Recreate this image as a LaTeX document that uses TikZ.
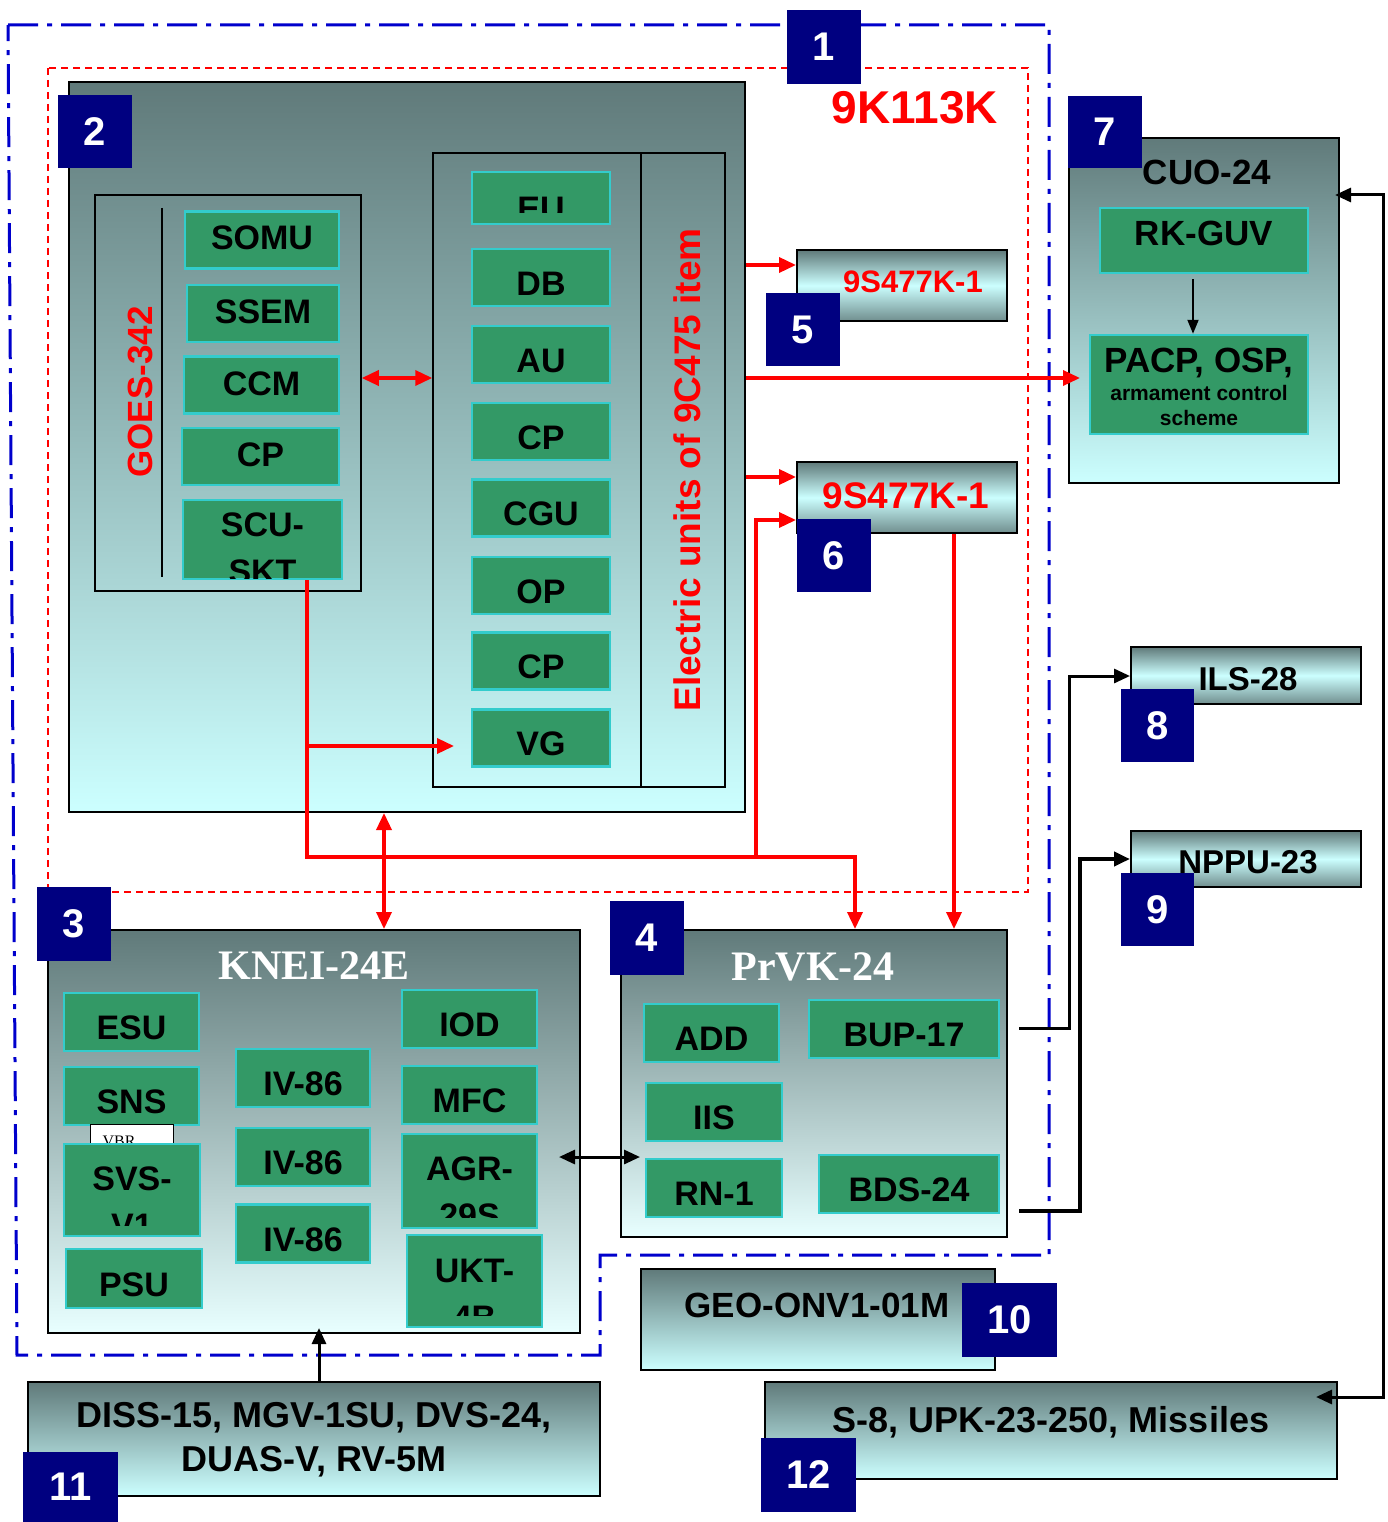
\documentclass[tikz,border=0pt]{standalone}
\usepackage{fontspec}
\setmainfont{Liberation Sans}
\newfontfamily\timesfont{Liberation Serif}
\usepackage{xcolor}
\usetikzlibrary{arrows.meta,positioning}
\definecolor{Navy}{HTML}{000080}
\definecolor{Slate}{HTML}{607A7A}
\definecolor{Aqua}{HTML}{CCFFFF}
\definecolor{Pale}{HTML}{E8FFFF}
\definecolor{Leaf}{HTML}{339966}
\definecolor{Teal}{HTML}{33CCCC}
\definecolor{Dash}{HTML}{0000CC}
\newcommand{\fsz}[1]{\fontsize{#1}{#1}\selectfont\bfseries}
% text of a green box that runs out of its frame
\newcommand{\cutlines}[5]{%
  \begin{scope}
    \clip (#1.north west) rectangle (#1.east |- 0,#2);
    \node[cuttext, anchor=base] at (#1.center |- 0,#3) {#4};
    \node[cuttext, anchor=base] at (#1.center |- 0,#3+47) {#5};
  \end{scope}}

\begin{document}
\begin{tikzpicture}[x=1pt, y=-1pt,
  gbox/.style={draw=Teal, fill=Leaf, line width=2.5pt, inner sep=0pt, font=\fsz{34}, text height=35pt, text depth=0pt},
  cuttext/.style={font=\fsz{34}, inner sep=0pt},
  grad/.style={draw=black, line width=2pt, top color=Slate, bottom color=Aqua, inner sep=0pt},
  paler/.style={grad, bottom color=Pale},
  band/.style={draw=black, line width=2pt, top color=Slate, bottom color=Slate!85!Aqua, middle color=Aqua, inner sep=0pt},
  plain/.style={draw=black, line width=1.5pt, inner sep=0pt},
  txt/.style={inner sep=0pt, text depth=0pt},
  num/.style={fill=Navy, text=white, inner sep=0pt, font=\fsz{40}},
  sized/.style 2 args={minimum width=#1pt, minimum height=#2pt},
  redline/.style={draw=red, line width=3.5pt},
  redarrow/.style={redline, -{Triangle[length=17pt,width=15pt]}},
  redboth/.style={redline, {Triangle[length=17pt,width=15pt]}-{Triangle[length=17pt,width=15pt]}},
  blackarrow/.style={draw=black, line width=3pt, -{Triangle[length=16pt,width=14pt]}},
  blackboth/.style={draw=black, line width=3pt, {Triangle[length=16pt,width=14pt]}-{Triangle[length=16pt,width=14pt]}},
]
\useasboundingbox (0,0) rectangle (1388,1522);

% frames 1 and 9K113K
\draw[draw=Dash, line width=3pt, dash pattern=on 30pt off 9pt on 5pt off 9pt] (8,25) -- (1049,25) -- (1049,1255) -- (600,1255) -- (600,1355) -- (17,1355) -- cycle;
\draw[red, line width=1.5pt, dash pattern=on 7pt off 5pt] (48,68) rectangle (1028,892);
\node[txt, text=red, font=\fsz{46}] (title) at (915,107) {9K113K};

% block 2
\node[grad, sized={676}{730}] (sys) at (407,447) {};
\node[plain, sized={266}{396}] (goes) at (228,393) {};
\draw[line width=1.5pt] (162,208) -- (162,577);
\node[txt, rotate=90, text=red, font=\fsz{35}] (goestxt) at (140,392) {GOES-342};
\foreach \name/\x/\y/\w/\txt in {somu/262/240/154/SOMU, ssem/263/313.5/152/SSEM, ccm/261.5/385/155/CCM, cp1/260.5/456.5/157/CP}
  \node[gbox, sized={\w}{57}, text height=20pt] (\name) at (\x,\y) {\txt};
\node[gbox, sized={159}{79}] (scu) at (262.5,539.5) {};
\cutlines{scu}{578}{536}{SCU-}{SKT}

\node[plain, sized={292}{634}] (elec) at (579,470) {};
\draw[line width=1.5pt] (elec.north -| 641,0) -- (elec.south -| 641,0);
\node[txt, rotate=90, text=red, font=\fsz{37}] (electxt) at (687,470) {Electric units of 9C475 item};
\node[gbox, sized={138}{52}] (eu) at (541,198) {};
\cutlines{eu}{213}{221}{EU}{}
\foreach \name/\y/\txt in {db/277.5/DB, au/354.5/AU, cp2/431.5/CP, cgu/508/CGU, op/585.5/OP, cp3/661/CP, vg/738/VG}
  \node[gbox, sized={138}{57}] (\name) at (541,\y) {\txt};

% blocks 5, 6, 7, 8, 9
\node[band, sized={210}{71}] (n5) at (902,285.5) {};
\node[txt, text=red, font=\fsz{31}] (n5txt) at (913,282) {9S477K-1};
\node[band, sized={220}{71}] (n6) at (907,497.5) {};
\node[txt, text=red, font=\fsz{37}] (n6txt) at (906,496) {9S477K-1};

\node[grad, sized={270}{345}] (cuo) at (1204,310.5) {};
\node[txt, font=\fsz{35}] (cuotxt) at (1207,172) {CUO-24};
\node[gbox, sized={208}{65}, font=\fsz{35}, text height=11pt] (rkguv) at (1204,240.5) {RK-GUV};
\node[gbox, sized={218}{99}] (pacp) at (1199,384.5) {};
\node[inner sep=0pt, align=center, font=\fsz{35}] (pacptxt) at (1199,387)
  {PACP, OSP,\\[-7.5pt]{\fontsize{21}{25}\selectfont armament control}\\[-10pt]{\fontsize{21}{25}\selectfont scheme}};

\node[band, sized={230}{57}] (ils) at (1246,675.5) {};
\node[txt, font=\fsz{33}] (ilstxt) at (1248,679) {ILS-28};
\node[band, sized={230}{56}] (nppu) at (1246,859) {};
\node[txt, font=\fsz{33}] (npputxt) at (1248,862) {NPPU-23};

% block 3
\node[paler, sized={532}{403}] (knei) at (314,1131.5) {};
\node[txt, text=white, font={\timesfont\fsz{42}}] (kneitxt) at (314,966) {KNEI-24E};
\node[gbox, sized={135}{58}] (esu) at (131.5,1022) {ESU};
\node[gbox, sized={135}{58}] (sns) at (131.5,1096) {SNS};
\node[draw=black, line width=1pt, fill=white, sized={83}{21}, inner sep=0pt] (vbr) at (131.5,1134.5) {};
\node[inner sep=0pt, anchor=base, font=\timesfont\fontsize{16}{16}\selectfont] (vbrtxt) at (119,1146) {VBR};
\node[gbox, sized={136}{92}] (svs) at (132,1190) {};
\cutlines{svs}{1225}{1190}{SVS-}{V1}
\node[gbox, sized={136}{59}] (psu) at (134,1278.5) {PSU};
\foreach \name/\y in {iv1/1078, iv2/1157, iv3/1233.5}
  \node[gbox, sized={134}{58}] (\name) at (303,\y) {IV-86};
\node[gbox, sized={135}{58}] (iod) at (469.5,1019) {IOD};
\node[gbox, sized={135}{58}] (mfc) at (469.5,1095) {MFC};
\node[gbox, sized={135}{94}] (agr) at (469.5,1181) {};
\cutlines{agr}{1217}{1180}{AGR-}{29S}
\node[gbox, sized={135}{92}] (ukt) at (474.5,1281) {};
\cutlines{ukt}{1315}{1282}{UKT-}{4B}

% block 4
\node[paler, sized={386}{307}] (prvk) at (814,1083.5) {};
\node[txt, text=white, font={\timesfont\fsz{42}}] (prvktxt) at (813,967) {PrVK-24};
\node[gbox, sized={135}{58}] (add) at (711.5,1033) {ADD};
\node[gbox, sized={190}{58}] (bup) at (904,1029) {BUP-17};
\node[gbox, sized={136}{58}] (iis) at (714,1112) {IIS};
\node[gbox, sized={136}{58}] (rn1) at (714,1188) {RN-1};
\node[gbox, sized={180}{58}] (bds) at (909,1184) {BDS-24};

% blocks 10, 11, 12
\node[grad, sized={354}{101}] (geo) at (818,1319.5) {};
\node[txt, font=\fsz{35}] (geotxt) at (817,1305) {GEO-ONV1-01M};
\node[grad, sized={572}{114}] (diss) at (314,1439) {};
\node[inner sep=0pt, align=center, font={\fontsize{36}{44}\selectfont\bfseries}] (disstxt) at (314,1440) {DISS-15, MGV-1SU, DVS-24,\\DUAS-V, RV-5M};
\node[grad, sized={572}{97}] (s8) at (1051,1430.5) {};
\node[txt, font=\fsz{36}] (s8txt) at (1051,1419) {S-8, UPK-23-250, Missiles};

% red links
\draw[redboth] (goes.east |- 0,378) -- (elec.west |- 0,378);
\draw[redarrow] (sys.east |- 0,265) -- (n5.west |- 0,265);
\draw[redarrow] (sys.east |- 0,378) -- ([xshift=12pt]cuo.west |- 0,378);
\draw[redarrow] (sys.east |- 0,477) -- (n6.west |- 0,477);
\coordinate (bend) at (307,857);
\coordinate (vgtip) at (454,746);
\draw[redarrow] (scu.south -| bend) -- (bend) -| ([xshift=41pt]prvk.north);
\draw[redarrow] (bend |- vgtip) -- (vgtip);
\draw[redarrow] (bend -| 756,0) |- (n6.west |- 0,520);
\draw[redboth] (sys.south -| 384,0) -- (knei.north -| 384,0);
\draw[redarrow] (n6.south -| 954,0) -- (prvk.north -| 954,0);

% black links
\draw[blackboth] ([xshift=-22pt]knei.east |- 0,1157) -- ([xshift=20pt]prvk.west |- 0,1157);
\draw[blackarrow] ([xshift=11pt]prvk.east |- 0,1028) -| (1069,676) -- (ils.west |- 0,676);
\draw[blackarrow, line width=4pt] ([xshift=11pt]prvk.east |- 0,1211) -| (1080,859) -- (nppu.west |- 0,859);
\draw[blackarrow] (diss.north -| 319,0) -- ([yshift=6pt]knei.south -| 319,0);
\draw[blackboth] ([xshift=-5pt]cuo.east |- 0,195) -- (1383,195) -- (1383,1397) -- ([xshift=-22pt]s8.east |- 0,1397);
\draw[draw=black, line width=2pt, -{Triangle[length=14pt,width=11pt]}] ([yshift=-5pt]rkguv.south -| 1193,0) -- (pacp.north -| 1193,0);

% numbers
\foreach \n/\x/\y/\w/\h in {1/824/47/74/74, 2/95/132/74/73, 3/74/924/74/74, 4/647/938/74/74, 5/803/329.5/74/73, 6/834/555.5/74/73, 7/1105/132/74/72, 8/1157.5/725.5/73/73, 9/1157.5/909.5/73/73, 10/1009.5/1320/95/74, 11/70.5/1487/95/70, 12/808.5/1475/95/74}
  \node[num, sized={\w}{\h}] (lab\n) at (\x,\y) {\n};
\end{tikzpicture}
\end{document}
